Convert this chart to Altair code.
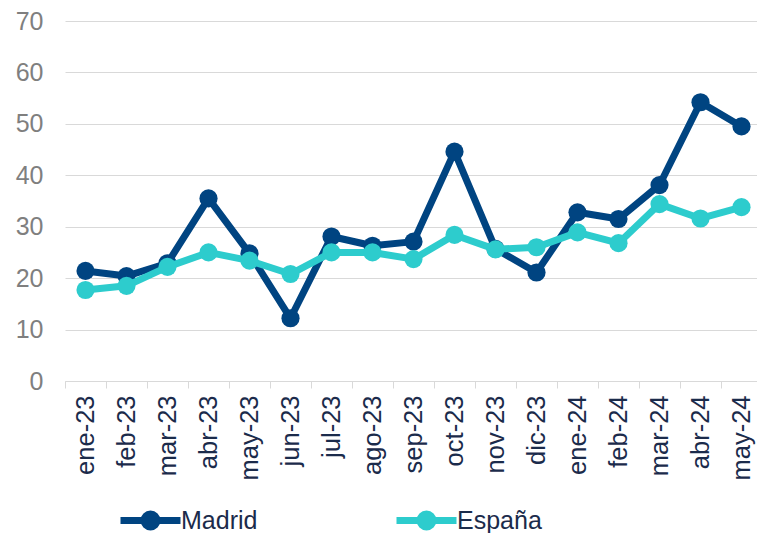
import altair as alt
import pandas as pd

months = ["ene-23", "feb-23", "mar-23", "abr-23", "may-23", "jun-23", "jul-23",
          "ago-23", "sep-23", "oct-23", "nov-23", "dic-23", "ene-24", "feb-24",
          "mar-24", "abr-24", "may-24"]
madrid = [21.4, 20.4, 22.9, 35.5, 24.8, 12.2, 28.1, 26.3, 27.1, 44.6, 25.7,
          21.1, 32.8, 31.5, 38.1, 54.2, 49.5]
espana = [17.7, 18.5, 22.2, 25.0, 23.4, 20.8, 25.0, 25.0, 23.7, 28.4, 25.6,
          26.0, 28.9, 26.8, 34.4, 31.6, 33.8]
series = ["Madrid", "España"]
colors = ["#004481", "#2DCCCD"]
y_ticks = [0, 10, 20, 30, 40, 50, 60, 70]

df = pd.DataFrame({
    "mes": months * 2,
    "serie": [series[0]] * len(months) + [series[1]] * len(months),
    "valor": madrid + espana,
})

label_color = "#1b2b4b"
path = "M-3,0H3M-0.65,0A0.65,0.65 0 1,0 0.65,0A0.65,0.65 0 1,0 -0.65,0Z"


def make_legend():
    return alt.Legend(
        title=None, orient="none", legendX=72, legendY=486, direction="horizontal",
        symbolType=path, symbolSize=400, symbolStrokeWidth=7, symbolOpacity=1,
        labelFontSize=25, labelColor=label_color, labelFont="Liberation Sans",
        labelOffset=17, columnPadding=124, padding=0,
    )


scale = alt.Scale(domain=series, range=colors)
stroke = alt.Stroke("serie:N", scale=scale, legend=make_legend())
fill = alt.Fill("serie:N", scale=scale, legend=make_legend())

x = alt.X("mes:N", sort=months, bandPosition=0.5,
          scale=alt.Scale(type="band", paddingInner=0, paddingOuter=0),
          axis=alt.Axis(title=None, labelAngle=270, tickBand="extent",
                        labelFontSize=25.5, labelColor=label_color, labelFont="Liberation Sans",
                        domainColor="#d9d9d9", tickColor="#d9d9d9", tickSize=7,
                        labelPadding=7, grid=False))
y = alt.Y("valor:Q", scale=alt.Scale(domain=[0, 70]),
          axis=alt.Axis(title=None, values=y_ticks, domain=False, ticks=False,
                        labelFontSize=25, labelColor="#7f7f7f", labelFont="Liberation Sans",
                        labelPadding=22, gridColor="#d9d9d9", gridWidth=1.2))

base = alt.Chart(df).encode(x=x, y=y)

layers = []
for s in series:
    sub = base.transform_filter(alt.datum.serie == s)
    layers.append(sub.mark_line(strokeWidth=7, strokeCap="round", strokeJoin="round")
                  .encode(stroke=stroke))
    layers.append(sub.mark_circle(size=330, opacity=1).encode(fill=fill))

chart = alt.layer(*layers).properties(
    width=697, height=360,
    autosize=alt.AutoSizeParams(type="none"),
    padding={"left": 57, "top": 13, "right": -5, "bottom": 152},
).configure_view(stroke=None)

chart.save("out.html", embed_options={"renderer": "svg", "actions": False})
